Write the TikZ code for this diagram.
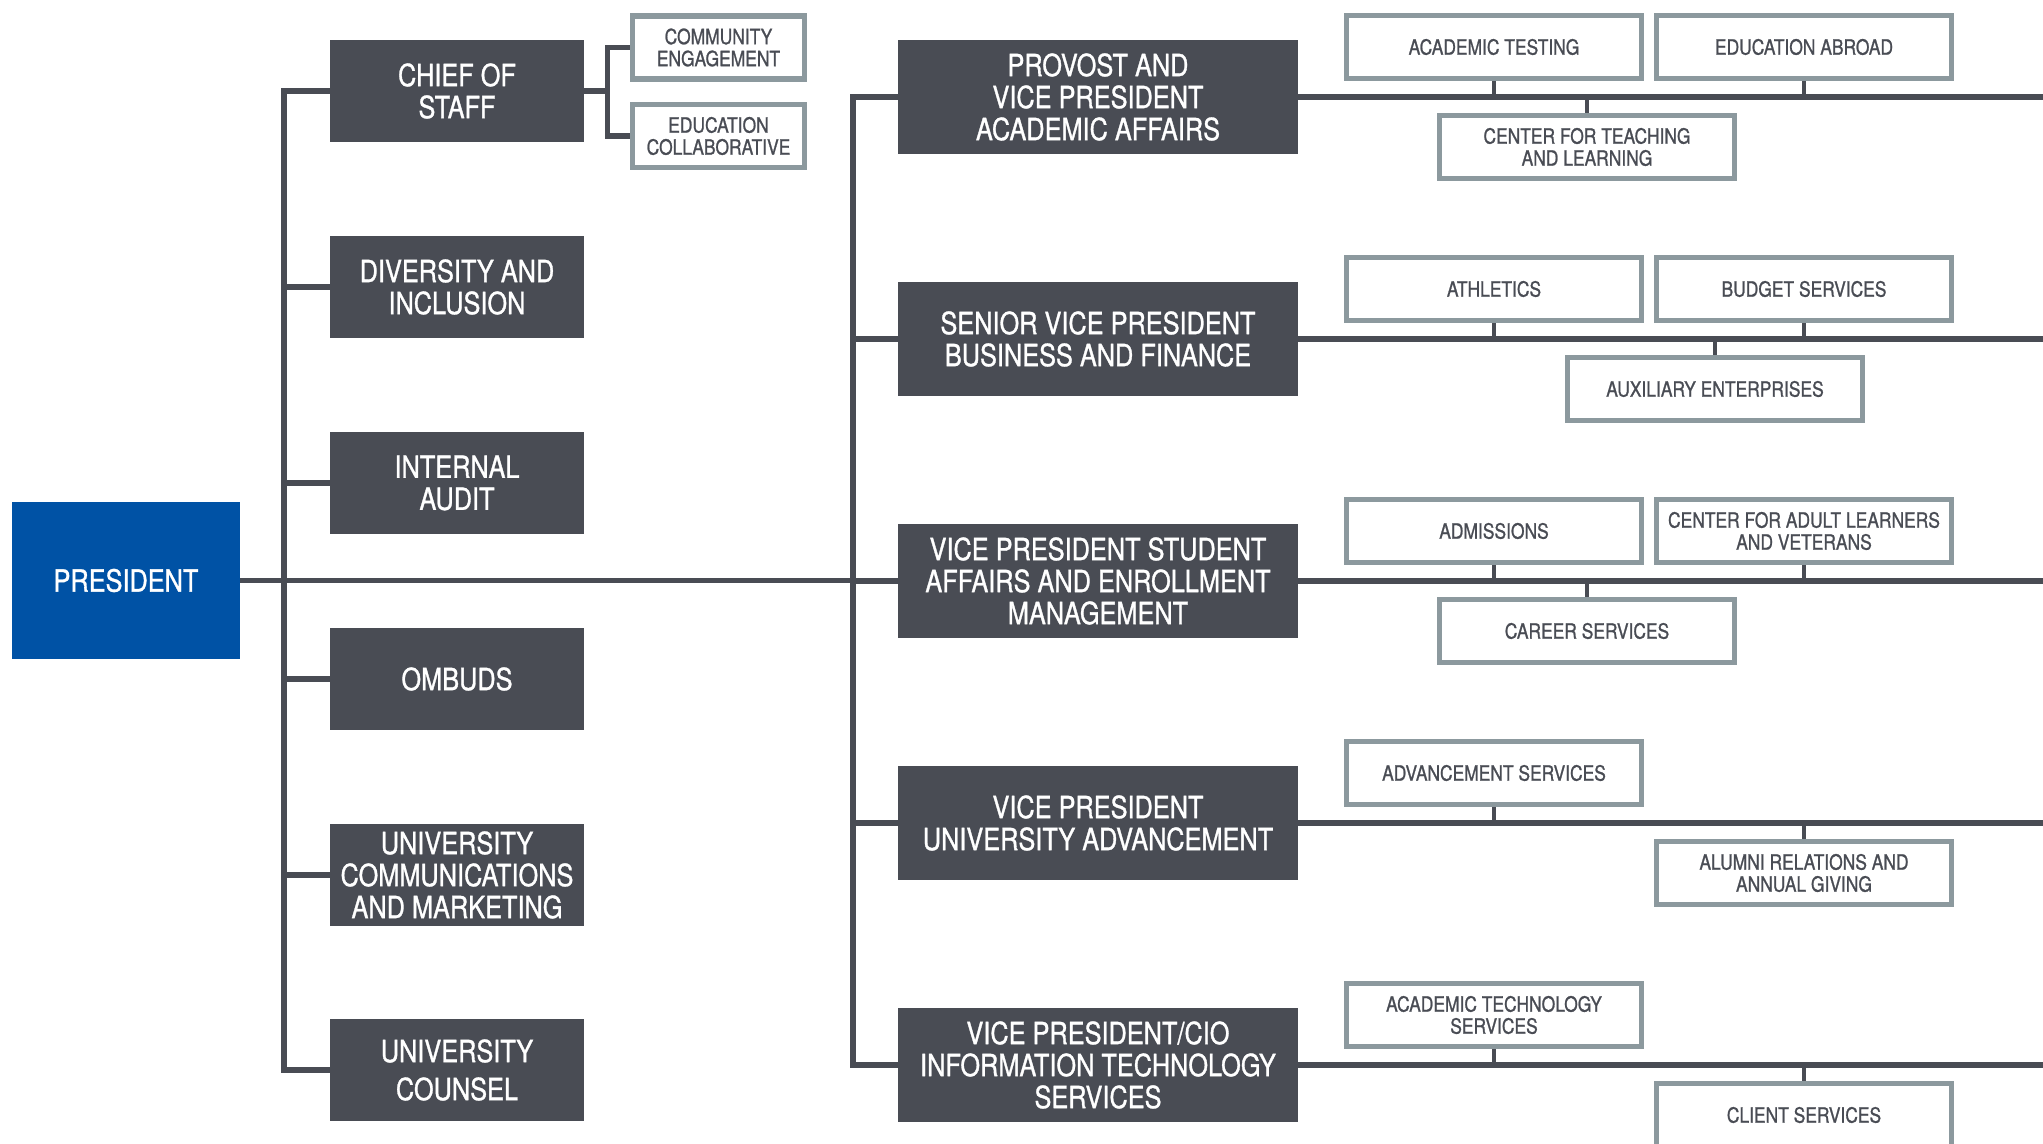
\documentclass[tikz,border=0pt]{standalone}
\usepackage{fontspec}
\setmainfont{TeX Gyre Heros}[FakeStretch=0.83,FakeBold=1]
\usetikzlibrary{positioning,backgrounds}
\definecolor{presblue}{HTML}{0052A5}
\definecolor{slate}{HTML}{494C54}
\definecolor{unitgray}{HTML}{8C999E}
\newcommand{\bigtxt}{\fontsize{15.25}{16}\selectfont}
\newcommand{\smalltxt}{\fontsize{10.5}{11}\selectfont}

\begin{document}
\begin{tikzpicture}[x=0.5pt,y=-0.5pt,on grid,
    every node/.style={align=center,inner sep=0pt},
    head/.style={fill=presblue,text=white,font=\bigtxt,minimum width=114pt,minimum height=78.5pt},
    office/.style={fill=slate,text=white,font=\bigtxt,minimum width=127pt,minimum height=51pt},
    vp/.style={fill=slate,text=white,font=\bigtxt,minimum width=200pt,minimum height=57pt},
    unit/.style={draw=unitgray,line width=2.65pt,fill=white,text=slate,font=\smalltxt,minimum width=147.8pt,minimum height=31.5pt},
    subunit/.style={unit,minimum width=85.9pt},
    wire/.style={draw=slate,line width=2.7pt,line cap=rect},
    stub/.style={draw=slate,line width=2pt}]
    \useasboundingbox (0,0) rectangle (2043,1144);

    \node[head] (pres) at (126,580.5) {PRESIDENT};

    \node[office] (cos) at (457,91) {CHIEF OF\\STAFF};
    \node[office] (div) [below=98pt of cos] {DIVERSITY AND\\INCLUSION};
    \node[office] (audit) [below=98pt of div] {INTERNAL\\AUDIT};
    \node[office] (ombuds) [below=98pt of audit] {OMBUDS};
    \node[office] (ucm) [below=98pt of ombuds] {UNIVERSITY\\COMMUNICATIONS\\AND MARKETING};
    \node[office] (counsel) [below=97.5pt of ucm] {UNIVERSITY\\[3pt]COUNSEL};

    \node[subunit] (ce) at (718.5,47.5) {COMMUNITY\\ENGAGEMENT};
    \node[subunit] (ecol) at (718.5,136) {EDUCATION\\COLLABORATIVE};

    \node[vp] (prov) at (1098,97) {PROVOST AND\\VICE PRESIDENT\\ACADEMIC AFFAIRS};
    \node[vp] (svp) [below=121pt of prov] {SENIOR VICE PRESIDENT\\BUSINESS AND FINANCE};
    \node[vp] (vpsa) [below=121pt of svp] {VICE PRESIDENT STUDENT\\AFFAIRS AND ENROLLMENT\\MANAGEMENT};
    \node[vp] (vpua) [below=121pt of vpsa] {VICE PRESIDENT\\UNIVERSITY ADVANCEMENT};
    \node[vp] (cio) [below=121pt of vpua] {VICE PRESIDENT/CIO\\INFORMATION TECHNOLOGY\\SERVICES};

    \node[unit] (test) [above right=25pt and 198pt of prov] {ACADEMIC TESTING};
    \node[unit] (abroad) [right=155pt of test] {EDUCATION ABROAD};
    \node[unit] (ctl) [below right=50pt and 46.5pt of test] {CENTER FOR TEACHING\\AND LEARNING};

    \node[unit] (ath) [above right=25pt and 198pt of svp] {ATHLETICS};
    \node[unit] (budget) [right=155pt of ath] {BUDGET SERVICES};
    \node[unit] (aux) [below right=50pt and 110.5pt of ath] {AUXILIARY ENTERPRISES};

    \node[unit] (adm) [above right=25pt and 198pt of vpsa] {ADMISSIONS};
    \node[unit] (adult) [right=155pt of adm] {CENTER FOR ADULT LEARNERS\\AND VETERANS};
    \node[unit] (career) [below right=50pt and 46.5pt of adm] {CAREER SERVICES};

    \node[unit] (advs) [above right=25pt and 198pt of vpua] {ADVANCEMENT SERVICES};
    \node[unit] (alumni) [below right=50pt and 155pt of advs] {ALUMNI RELATIONS AND\\ANNUAL GIVING};

    \node[unit] (ats) [above right=25pt and 198pt of cio] {ACADEMIC TECHNOLOGY\\SERVICES};
    \node[unit] (client) [below right=50pt and 155pt of ats] {CLIENT SERVICES};

    \begin{scope}[on background layer]
        \coordinate (lt) at (284,0);
        \coordinate (rt) at (853,0);
        \coordinate (edge) at (2043,0);
        \coordinate (fork) at (607.5,91);

        \draw[wire] (pres) -- (rt |- pres);
        \draw[wire] (lt |- cos) -- (lt |- counsel);
        \foreach \n in {cos,div,audit,ombuds,ucm,counsel}
            \draw[wire] (lt |- \n) -- (\n);

        \draw[wire] (cos) -- (fork);
        \draw[wire] (fork |- ce) -- (fork |- ecol);
        \draw[wire] (fork |- ce) -- (ce);
        \draw[wire] (fork |- ecol) -- (ecol);

        \draw[wire] (rt |- prov) -- (rt |- cio);
        \foreach \n in {prov,svp,vpsa,vpua,cio}
            \draw[wire] (rt |- \n) -- (edge |- \n);

        \foreach \u/\v in {test/prov,abroad/prov,ctl/prov,ath/svp,budget/svp,aux/svp,
                adm/vpsa,adult/vpsa,career/vpsa,advs/vpua,alumni/vpua,ats/cio,client/cio}
            \draw[stub] (\u) -- (\u |- \v);
    \end{scope}
\end{tikzpicture}
\end{document}
